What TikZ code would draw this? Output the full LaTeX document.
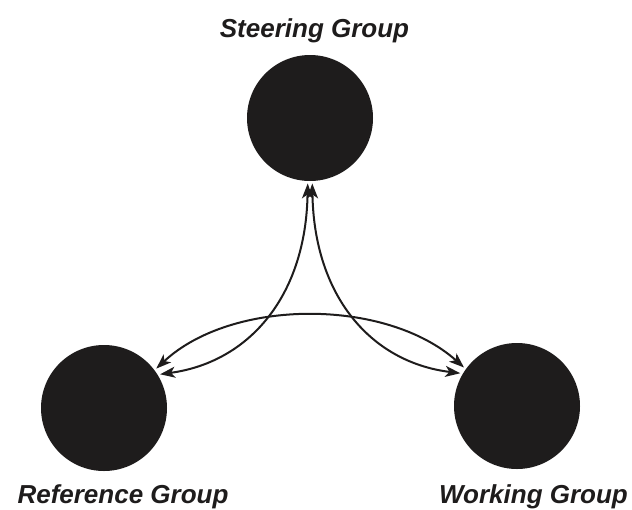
\documentclass[tikz,border=0pt]{standalone}
\usepackage{fontspec}
\setmainfont{Liberation Sans}
\usetikzlibrary{arrows.meta}
\definecolor{ink}{HTML}{1E1C1C}
\tikzset{
  grp/.style={circle, fill=ink, draw=none, minimum size=126pt, inner sep=0pt, outer sep=2.5pt},
  lbl/.style={anchor=base, text=ink, font=\bfseries\itshape\fontsize{26}{30}\selectfont, inner sep=0pt},
  link/.style={draw=ink, line width=2pt, {Stealth[length=15pt,width=11pt,inset=4pt]}-{Stealth[length=15pt,width=11pt,inset=4pt]}}
}
\begin{document}
\begin{tikzpicture}[x=1pt, y=-1pt]
\useasboundingbox (0,0) rectangle (632,509);
\node[grp] (S) at (310,118) {};
\node[grp] (R) at (104,408) {};
\node[grp] (W) at (517,406) {};
\node[lbl] (Sl) at (314.5,37) {Steering Group};
\node[lbl] (Rl) at (123,503) {Reference Group};
\node[lbl] (Wl) at (533.5,503) {Working Group};
\path[link] (S.-92) .. controls (306,295) and (250,362) .. (R.31);
\path[link] (S.-88) .. controls (314,295) and (370,362) .. (W.150);
\path[link] (R.37) .. controls (232,298) and (386,298) .. (W.144);
\end{tikzpicture}
\end{document}
